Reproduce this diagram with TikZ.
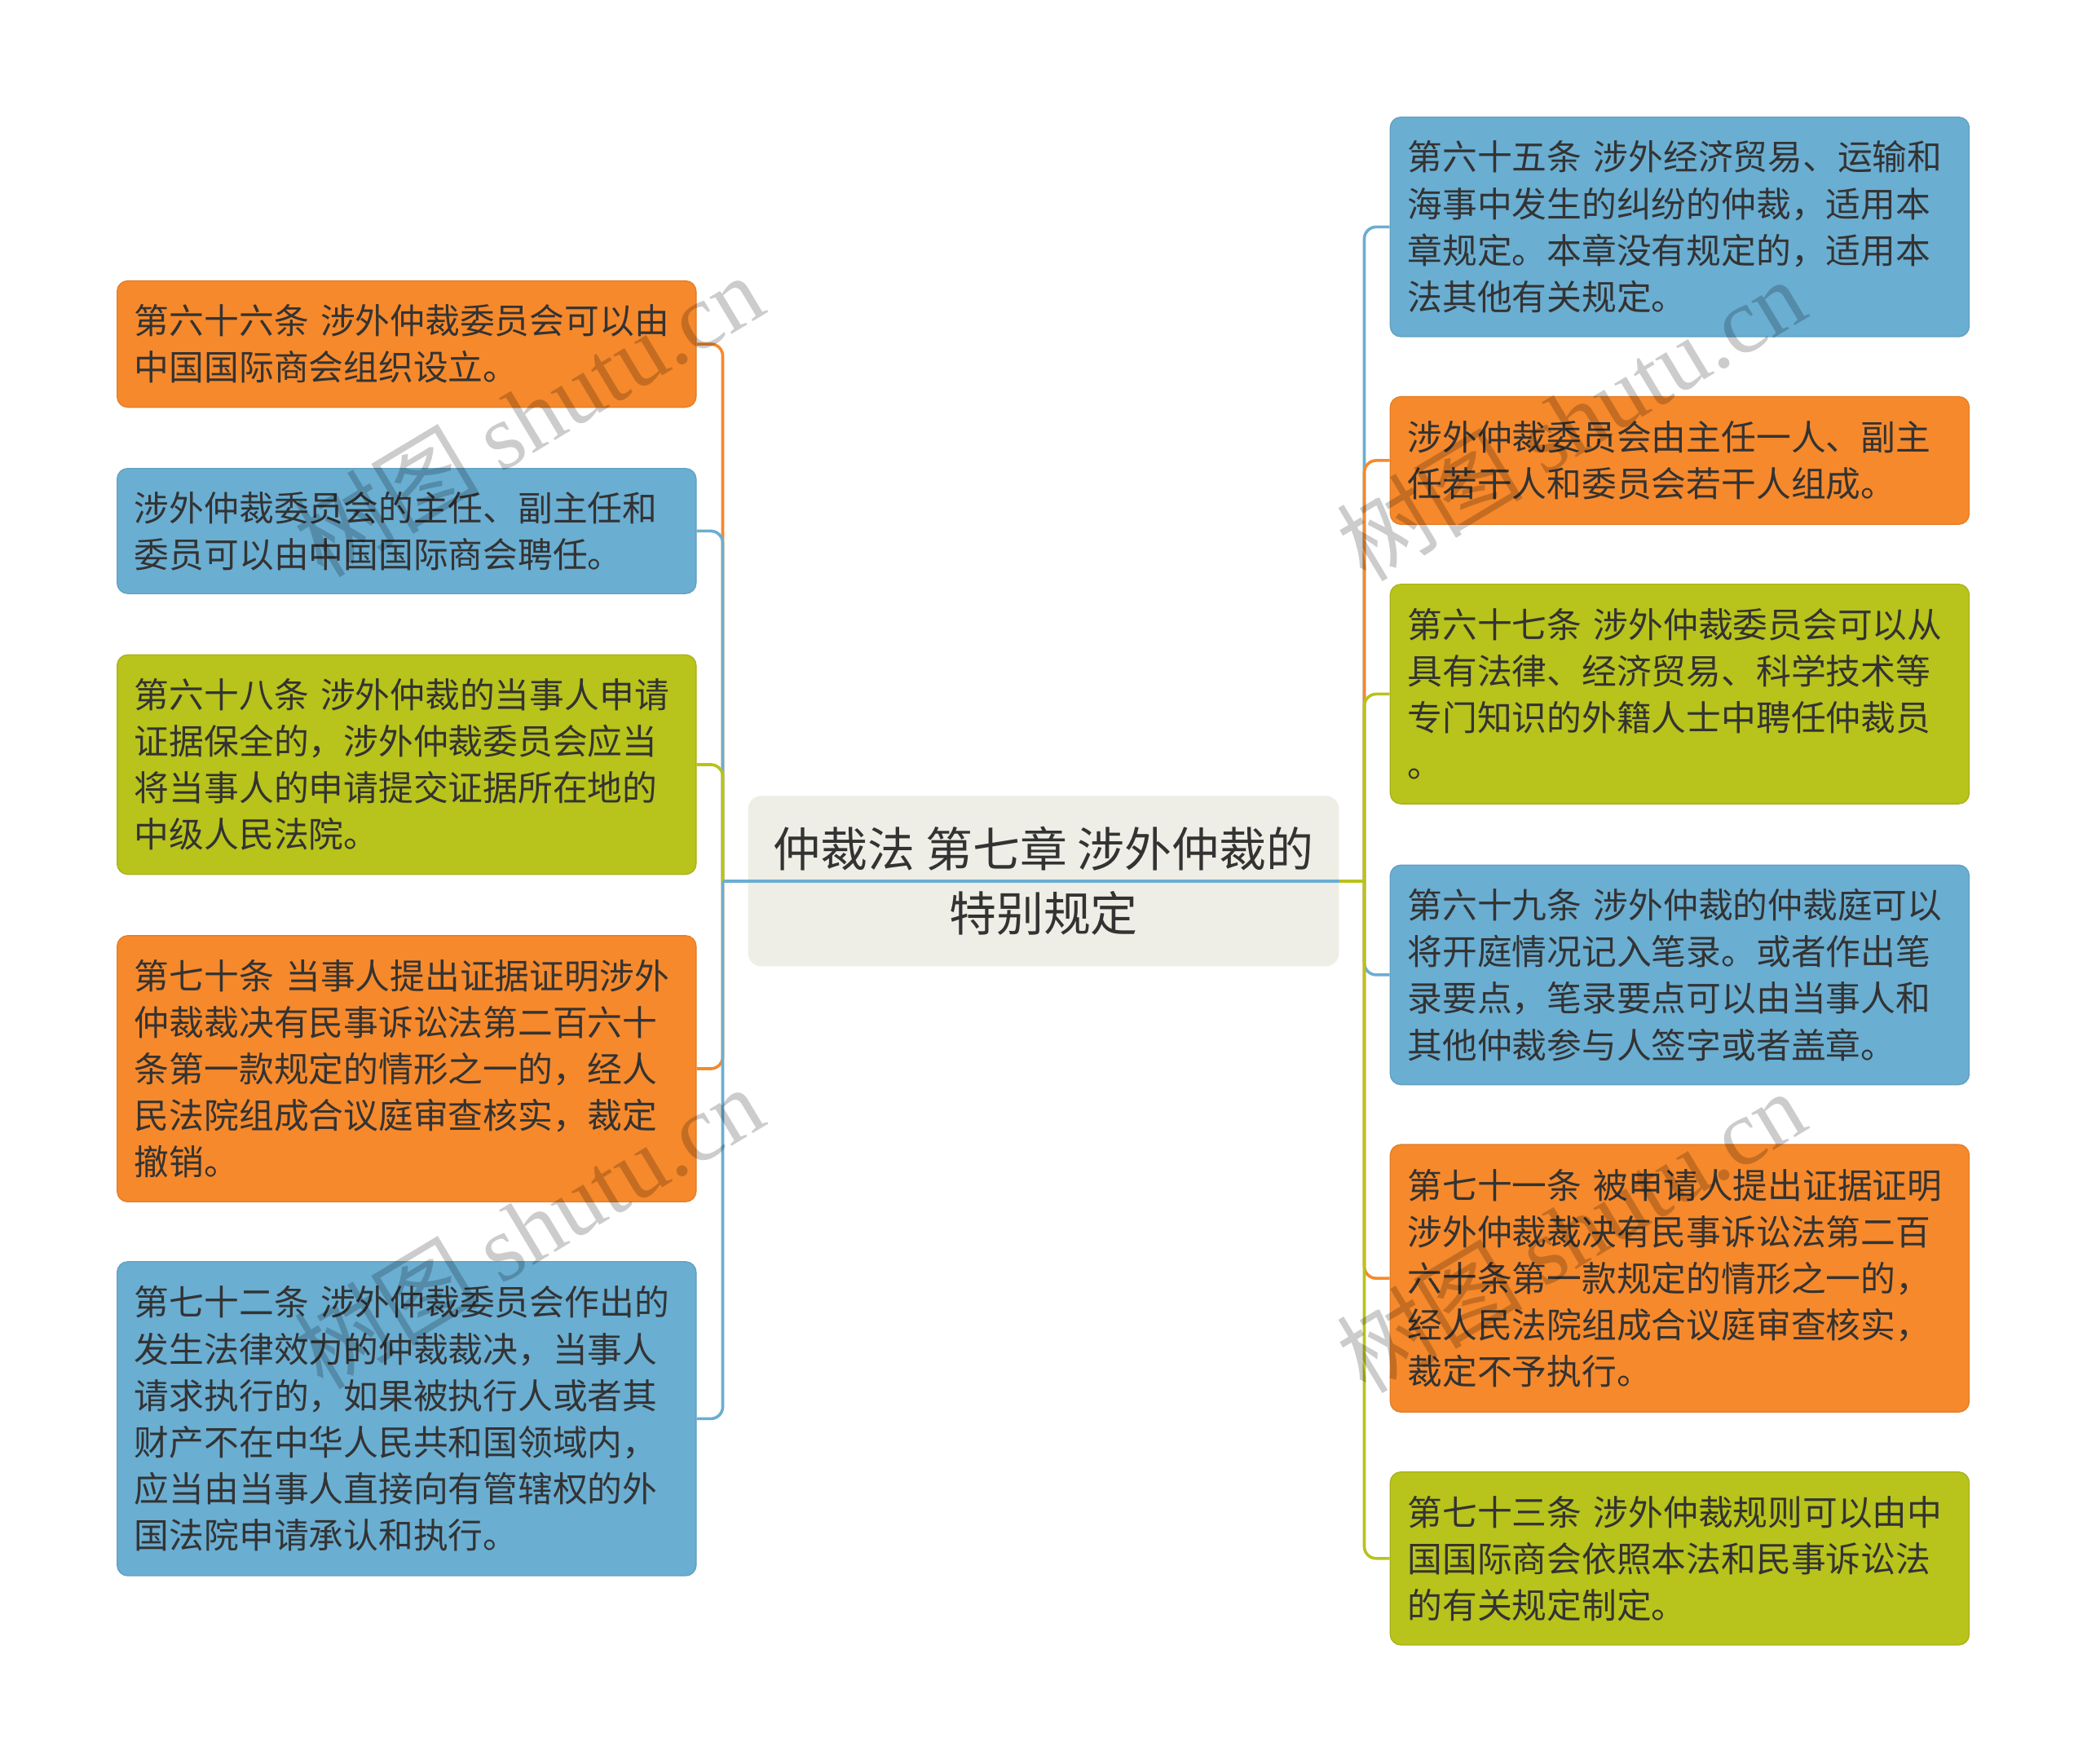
\documentclass[tikz,border=0pt]{standalone}
\usepackage{fontspec}
\setmainfont{Noto Sans CJK SC}
\newfontfamily\wmfont{Liberation Serif}
\newfontfamily\wmcjk{Noto Sans CJK SC}
\definecolor{cOrange}{HTML}{F6892B}
\definecolor{cBlue}{HTML}{6AAED2}
\definecolor{cGreen}{HTML}{B8C31B}
\definecolor{cText}{HTML}{333333}
\definecolor{cCenter}{HTML}{EEEEE6}
\tikzset{
  leaf/.style={rounded corners=8pt, inner xsep=13pt, inner ysep=0pt,
    text width=409pt, align=left, text=cText,
    font=\fontsize{26.2}{35}\selectfont, anchor=center},
  leafO/.style={leaf, fill=cOrange, draw=cOrange!92!black, line width=0.8pt},
  leafB/.style={leaf, fill=cBlue, draw=cBlue!92!black, line width=0.8pt},
  leafG/.style={leaf, fill=cGreen, draw=cGreen!92!black, line width=0.8pt},
  rootbox/.style={rounded corners=10pt, fill=cCenter, text=cText, align=center,
    minimum width=444pt, minimum height=128pt, inner sep=0pt,
    font=\fontsize{35.5}{48}\selectfont},
  conn/.style={line width=2.2pt, rounded corners=9pt},
  wmark/.style={text=black, opacity=0.2, rotate=31, inner sep=0pt,
    font=\fontsize{70}{70}\selectfont}
}
\begin{document}
\begin{tikzpicture}[x=1pt,y=-1pt]
\useasboundingbox[fill=white] (0,0) rectangle (1568,1325);

% root
\node[rootbox] (c) at (784,662) {仲裁法 第七章 涉外仲裁的\\特别规定};

% trunk coordinates
\coordinate (tl) at (543,662);
\coordinate (tr) at (1025,662);

% left boxes
\node[leafO, minimum height=95pt] (l1) at (305.5,258.5)
  {第六十六条 涉外仲裁委员会可以由\\中国国际商会组织设立。};
\node[leafB, minimum height=94pt] (l2) at (305.5,399)
  {涉外仲裁委员会的主任、副主任和\\委员可以由中国国际商会聘任。};
\node[leafG, minimum height=165pt] (l3) at (305.5,574.5)
  {第六十八条 涉外仲裁的当事人申请\\证据保全的，涉外仲裁委员会应当\\将当事人的申请提交证据所在地的\\中级人民法院。};
\node[leafO, minimum height=200pt] (l4) at (305.5,803)
  {第七十条 当事人提出证据证明涉外\\仲裁裁决有民事诉讼法第二百六十\\条第一款规定的情形之一的，经人\\民法院组成合议庭审查核实，裁定\\撤销。};
\node[leafB, minimum height=236pt] (l5) at (305.5,1066)
  {第七十二条 涉外仲裁委员会作出的\\发生法律效力的仲裁裁决，当事人\\请求执行的，如果被执行人或者其\\财产不在中华人民共和国领域内，\\应当由当事人直接向有管辖权的外\\国法院申请承认和执行。};

% right boxes
\node[leafB, minimum height=165pt] (r1) at (1262,170.5)
  {第六十五条 涉外经济贸易、运输和\\海事中发生的纠纷的仲裁，适用本\\章规定。本章没有规定的，适用本\\法其他有关规定。};
\node[leafO, minimum height=96pt] (r2) at (1262,346)
  {涉外仲裁委员会由主任一人、副主\\任若干人和委员会若干人组成。};
\node[leafG, minimum height=165pt] (r3) at (1262,521.5)
  {第六十七条 涉外仲裁委员会可以从\\具有法律、经济贸易、科学技术等\\专门知识的外籍人士中聘任仲裁员\\。};
\node[leafB, minimum height=165pt] (r4) at (1262,732.5)
  {第六十九条 涉外仲裁的仲裁庭可以\\将开庭情况记入笔录。或者作出笔\\录要点，笔录要点可以由当事人和\\其他仲裁参与人签字或者盖章。};
\node[leafO, minimum height=201pt] (r5) at (1262,960.5)
  {第七十一条 被申请人提出证据证明\\涉外仲裁裁决有民事诉讼法第二百\\六十条第一款规定的情形之一的，\\经人民法院组成合议庭审查核实，\\裁定不予执行。};
\node[leafG, minimum height=130pt] (r6) at (1262,1171)
  {第七十三条 涉外仲裁规则可以由中\\国国际商会依照本法和民事诉讼法\\的有关规定制定。};

% left connectors
\draw[conn, cOrange] (tl) |- (l1.east);
\draw[conn, cBlue] (tl) |- (l2.east);
\draw[conn, cGreen] (tl) |- (l3.east);
\draw[conn, cOrange] (tl) |- (l4.east);
\draw[conn, cBlue] (tl) |- (l5.east);
\draw[line width=2.2pt, cBlue] (c.east) -- (tl);

% right connectors
\draw[conn, cBlue] (tr) |- (r1.west);
\draw[conn, cOrange] (tr) |- (r2.west);
\draw[conn, cGreen] (tr) |- (r3.west);
\draw[conn, cBlue] (tr) |- (r4.west);
\draw[conn, cOrange] (tr) |- (r5.west);
\draw[conn, cGreen] (tr) |- (r6.west);
\draw[line width=2.2pt, cGreen] (c.east) -- (tr);

% watermarks
\node[wmark] (w1) at (397,312) {\wmcjk 树图\ \wmfont shutu.cn};
\node[wmark] (w2) at (397,922) {\wmcjk 树图\ \wmfont shutu.cn};
\node[wmark] (w3) at (1180,315) {\wmcjk 树图\ \wmfont shutu.cn};
\node[wmark] (w4) at (1180,925) {\wmcjk 树图\ \wmfont shutu.cn};
\end{tikzpicture}
\end{document}
